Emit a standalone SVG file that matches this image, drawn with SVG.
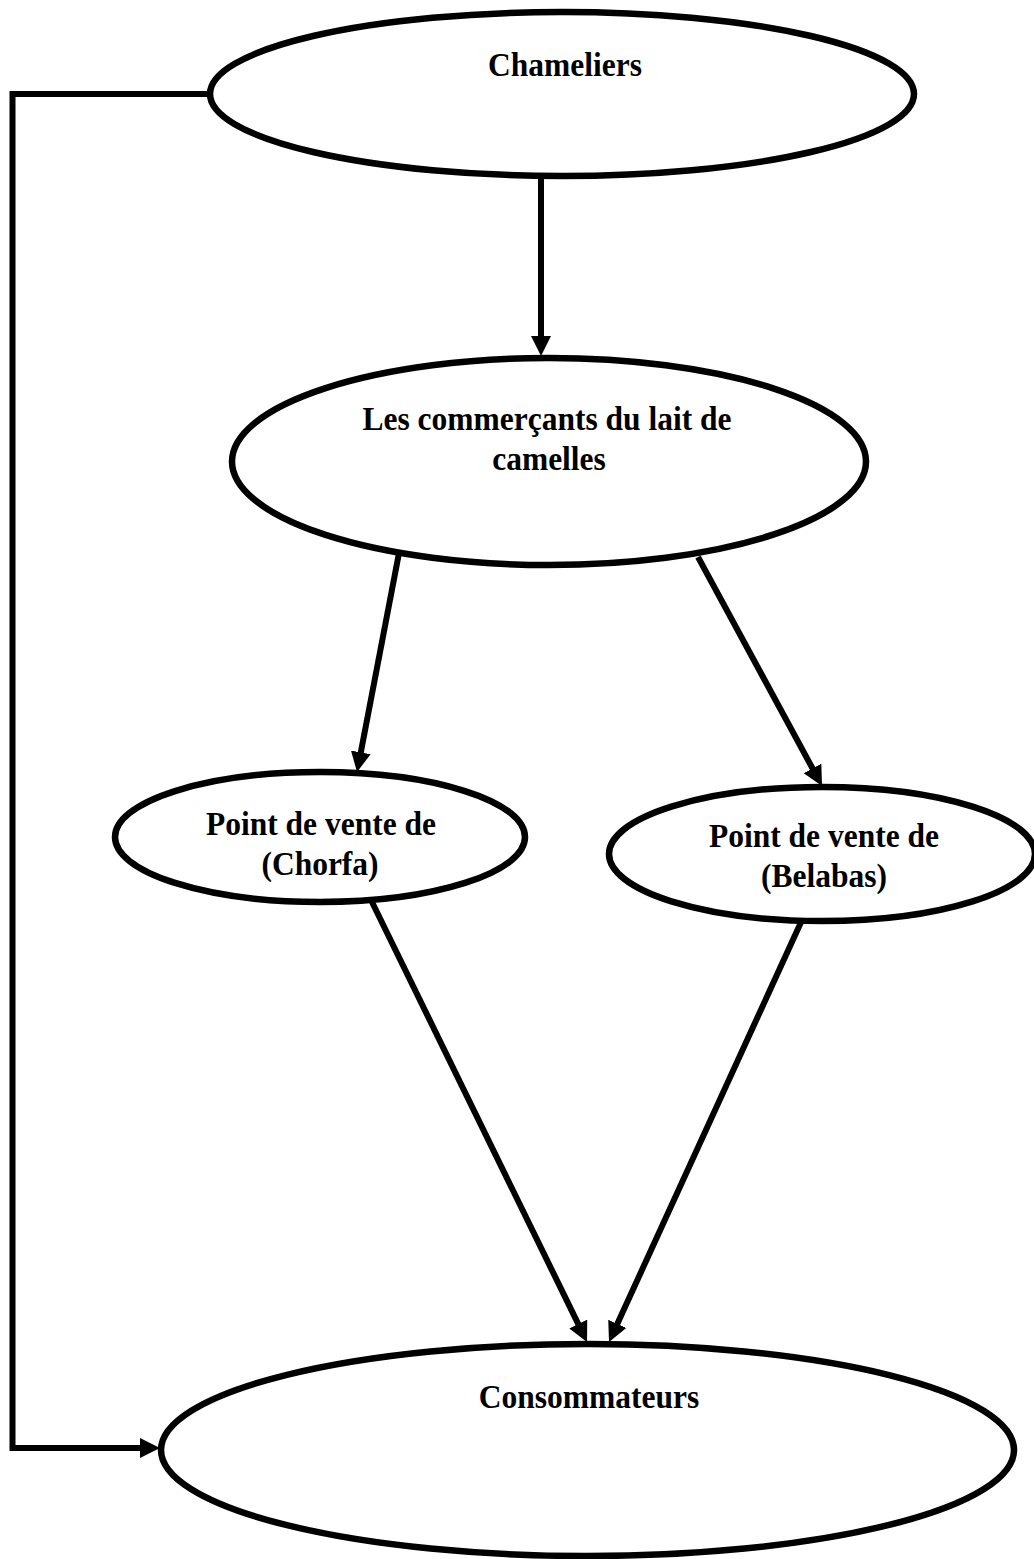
<svg xmlns="http://www.w3.org/2000/svg" width="1034" height="1559" viewBox="0 0 1034 1559">
<style>
.node ellipse{fill:#fff;stroke:#000;stroke-width:6.5}
.node text{font-family:"Liberation Serif","Times New Roman",serif;font-weight:bold;font-size:31.5px;fill:#000;text-anchor:middle}
.conn line,.conn polyline{stroke:#000;stroke-width:6;fill:none}
</style>
<defs>
<marker id="ah" markerUnits="userSpaceOnUse" markerWidth="24" markerHeight="24" refX="9" refY="10" orient="auto">
<path d="M0,0 L20,10 L0,20 z" fill="#000"/>
</marker>
</defs>
<rect width="1034" height="1559" fill="#fff"/>
<g id="n-chameliers" class="node">
<ellipse cx="562" cy="94" rx="352" ry="82"/>
<text transform="translate(565,76) scale(1,1.08)">Chameliers</text>
</g>
<g id="n-commercants" class="node">
<ellipse cx="549" cy="461.5" rx="317" ry="103.5"/>
<text transform="translate(547,430) scale(1,1.08)">Les commerçants du lait de</text>
<text transform="translate(549,470) scale(1,1.08)">camelles</text>
</g>
<g id="n-chorfa" class="node">
<ellipse cx="320" cy="837" rx="205" ry="65"/>
<text transform="translate(321,835) scale(1,1.08)">Point de vente de</text>
<text transform="translate(320,875) scale(1,1.08)">(Chorfa)</text>
</g>
<g id="n-belabas" class="node">
<ellipse cx="822" cy="854" rx="213" ry="67"/>
<text transform="translate(824,847) scale(1,1.08)">Point de vente de</text>
<text transform="translate(824,887) scale(1,1.08)">(Belabas)</text>
</g>
<g id="n-consommateurs" class="node">
<ellipse cx="587.5" cy="1450" rx="426.5" ry="106"/>
<text transform="translate(589,1408) scale(1,1.08)">Consommateurs</text>
</g>
<g id="connectors" class="conn">
<line x1="541" y1="176" x2="541" y2="345" marker-end="url(#ah)"/>
<line x1="399" y1="553" x2="359.1" y2="761.2" marker-end="url(#ah)"/>
<line x1="698" y1="557" x2="816.8" y2="776.3" marker-end="url(#ah)"/>
<line x1="372" y1="902" x2="582.2" y2="1332.1" marker-end="url(#ah)"/>
<line x1="802" y1="920" x2="613.6" y2="1332" marker-end="url(#ah)"/>
<polyline points="210,94 12.5,94 12.5,1448 149,1448" stroke-width="6.5" marker-end="url(#ah)"/>
</g>
</svg>
